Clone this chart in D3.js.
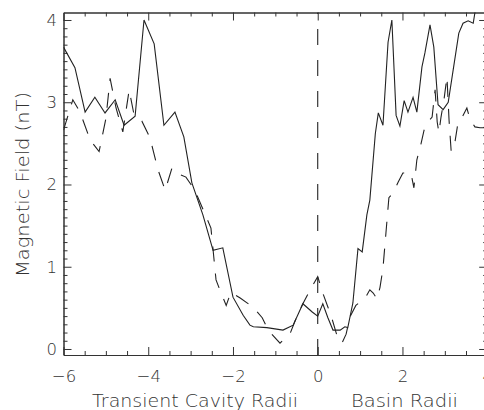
<!DOCTYPE html>
<html>
<head>
<meta charset="utf-8">
<script src="https://cdn.jsdelivr.net/npm/d3@7"></script>
<style>
  html, body { margin: 0; padding: 0; background: #fff; }
  svg { display: block; }
  text { font-family: "DejaVu Sans", "Liberation Sans", sans-serif; fill: #333; }
</style>
</head>
<body>
<svg id="chart" width="484" height="410"></svg>
<script>
// ---- data ----
const solidX = [-6.00,-5.73,-5.49,-5.26,-5.02,-4.78,-4.57,-4.31,-4.10,-3.86,-3.63,-3.37,-3.16,-2.97,-2.71,-2.47,-2.24,-2.00,-1.76,-1.60,-1.52,-1.20,-0.82,-0.58,-0.35,-0.13,0.00,0.12,0.24,0.36,0.53,0.64,0.71,0.83,0.95,1.05,1.16,1.23,1.36,1.43,1.54,1.66,1.75,1.85,1.94,2.04,2.13,2.25,2.34,2.46,2.53,2.65,2.74,2.84,2.96,3.08,3.19,3.33,3.43,3.55,3.67,3.76];
const solidY = [3.67,3.42,2.88,3.06,2.87,3.03,2.72,2.83,4.00,3.71,2.72,2.88,2.58,2.02,1.63,1.20,1.23,0.63,0.41,0.29,0.27,0.26,0.23,0.29,0.55,0.45,0.40,0.55,0.38,0.23,0.23,0.27,0.26,0.56,1.22,1.18,1.63,1.81,2.62,2.87,2.72,3.73,4.00,2.84,2.71,3.02,2.88,3.06,2.88,3.43,3.60,3.94,3.67,2.97,2.91,3.00,3.37,3.84,3.96,3.99,3.96,4.25];

const dashX = [-6.00,-5.78,-5.61,-5.37,-5.16,-5.00,-4.90,-4.76,-4.60,-4.45,-4.34,-4.15,-3.96,-3.77,-3.60,-3.44,-3.25,-3.11,-2.90,-2.66,-2.52,-2.40,-2.31,-2.16,-2.05,-1.83,-1.53,-1.31,-1.17,-0.89,-0.65,-0.49,-0.35,-0.18,0.00,0.12,0.24,0.33,0.45,0.57,0.67,0.76,0.90,1.12,1.23,1.31,1.40,1.47,1.54,1.61,1.68,1.78,1.90,2.01,2.13,2.20,2.27,2.34,2.44,2.51,2.60,2.70,2.77,2.82,2.86,2.91,2.98,3.05,3.10,3.15,3.24,3.31,3.43,3.52,3.59,3.71,3.83,3.95];
const dashY = [2.66,3.03,2.88,2.54,2.40,2.80,3.29,2.93,2.64,3.15,2.86,2.77,2.57,2.18,1.93,2.20,2.12,2.09,1.93,1.64,1.47,0.84,0.72,0.53,0.69,0.62,0.51,0.38,0.23,0.07,0.19,0.40,0.55,0.72,0.88,0.68,0.51,0.38,0.17,0.07,0.18,0.39,0.53,0.62,0.72,0.68,0.61,0.75,0.98,1.41,1.84,1.90,2.03,2.14,2.14,2.14,1.96,2.30,2.50,2.66,2.76,2.82,3.15,2.76,2.63,2.82,3.03,3.31,2.78,2.40,2.52,2.75,2.84,2.93,2.80,2.70,2.69,2.69];

const xMajorTicks = [-6,-4,-2,0,2,4];
const xMinorTicks = [-5.5,-5,-4.5,-3.5,-3,-2.5,-1.5,-1,-0.5,0.5,1,1.5,2.5,3,3.5];
const yMajorTicks = [0,1,2,3,4];
const yMinorTicks = [];
for (let k = 0; k <= 40; k++) if (k % 10 !== 0) yMinorTicks.push(+(k / 10).toFixed(1));

const xTitleLeft = "Transient Cavity Radii";
const xTitleRight = "Basin Radii";
const yTitle = "Magnetic Field (nT)";

// ---- layout ----
const svg = d3.select("#chart");
const L = 63.5, T = 12.5, B = 355, R = 487.2;
const x = d3.scaleLinear().domain([-6, 4]).range([L, R]);
const y = d3.scaleLinear().domain([-0.073, 4.091]).range([B, T]);

const axColor = "#333";
function styleAxis(g) {
  g.selectAll("path.domain").attr("stroke", axColor).attr("stroke-width", 1);
  g.selectAll(".tick line").attr("stroke", axColor).attr("stroke-width", 1);
  g.selectAll(".tick text").attr("font-size", 16.5).attr("fill", "#333")
    .attr("font-family", "DejaVu Sans, sans-serif").attr("font-weight", 300);
}

const fmt = d => (d < 0 ? "\u2212" + Math.abs(d) : String(d));

// bottom
svg.append("g").attr("transform", `translate(0,${B})`)
  .call(d3.axisBottom(x).tickValues(xMajorTicks).tickSize(-8).tickSizeOuter(0).tickPadding(15).tickFormat(fmt))
  .call(styleAxis);
svg.append("g").attr("transform", `translate(0,${B})`)
  .call(d3.axisBottom(x).tickValues(xMinorTicks).tickSize(-4).tickSizeOuter(0).tickFormat(""))
  .call(styleAxis);
// top
svg.append("g").attr("transform", `translate(0,${T})`)
  .call(d3.axisTop(x).tickValues(xMajorTicks).tickSize(-8).tickSizeOuter(0).tickFormat(""))
  .call(styleAxis);
svg.append("g").attr("transform", `translate(0,${T})`)
  .call(d3.axisTop(x).tickValues(xMinorTicks).tickSize(-4).tickSizeOuter(0).tickFormat(""))
  .call(styleAxis);
// left
svg.append("g").attr("transform", `translate(${L},0)`)
  .call(d3.axisLeft(y).tickValues(yMajorTicks).tickSize(-8).tickSizeOuter(0).tickPadding(6.5).tickFormat(fmt))
  .call(styleAxis);
svg.append("g").attr("transform", `translate(${L},0)`)
  .call(d3.axisLeft(y).tickValues(yMinorTicks).tickSize(-4).tickSizeOuter(0).tickFormat(""))
  .call(styleAxis);
// right
svg.append("g").attr("transform", `translate(${R},0)`)
  .call(d3.axisRight(y).tickValues(yMajorTicks).tickSize(-8).tickSizeOuter(0).tickFormat(""))
  .call(styleAxis);
svg.append("g").attr("transform", `translate(${R},0)`)
  .call(d3.axisRight(y).tickValues(yMinorTicks).tickSize(-4).tickSizeOuter(0).tickFormat(""))
  .call(styleAxis);

// clip
svg.append("clipPath").attr("id", "plotclip")
  .append("rect").attr("x", L).attr("y", T).attr("width", R - L).attr("height", B - T);

const plot = svg.append("g").attr("clip-path", "url(#plotclip)");

// vertical dashed line at 0
plot.append("line")
  .attr("x1", x(0)).attr("x2", x(0)).attr("y1", B).attr("y2", T)
  .attr("stroke", "#222").attr("stroke-width", 1.1).attr("stroke-dasharray", "16,15");

const line = d3.line().x(d => x(d[0])).y(d => y(d[1]));

plot.append("path")
  .datum(solidX.map((v, i) => [v, solidY[i]]))
  .attr("d", line).attr("fill", "none").attr("stroke", "#222").attr("stroke-width", 1.1)
  .attr("stroke-linejoin", "miter");

plot.append("path")
  .datum(dashX.map((v, i) => [v, dashY[i]]))
  .attr("d", line).attr("fill", "none").attr("stroke", "#222").attr("stroke-width", 1.1)
  .attr("stroke-dasharray", "15,12");

// titles
svg.append("text").attr("x", 92).attr("y", 407).attr("font-size", 18).attr("font-weight", 300)
  .attr("textLength", 206).attr("lengthAdjust", "spacingAndGlyphs").text(xTitleLeft);
svg.append("text").attr("x", 351).attr("y", 407).attr("font-size", 18).attr("font-weight", 300)
  .attr("textLength", 107).attr("lengthAdjust", "spacingAndGlyphs").text(xTitleRight);
svg.append("text").attr("transform", "translate(29,184.5) rotate(-90)")
  .attr("text-anchor", "middle").attr("font-size", 18).attr("font-weight", 300)
  .attr("textLength", 185).attr("lengthAdjust", "spacingAndGlyphs").text(yTitle);
</script>
</body>
</html>
